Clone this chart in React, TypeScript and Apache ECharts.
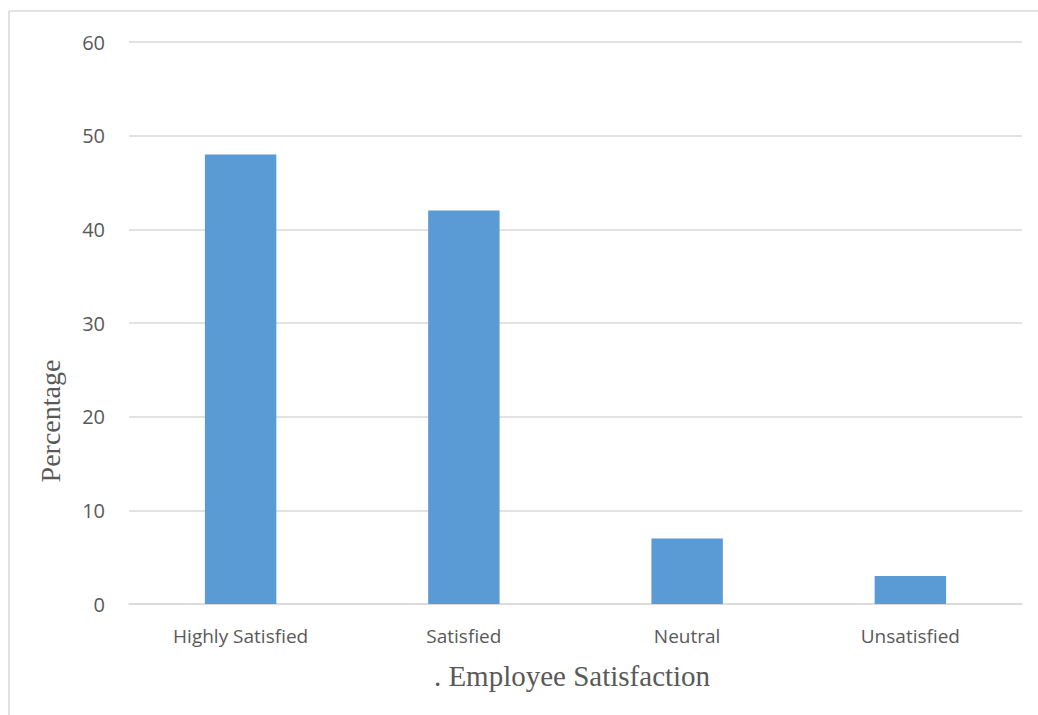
import React, { useEffect, useRef } from "react";
import * as echarts from "echarts";

const categories = ["Highly Satisfied", "Satisfied", "Neutral", "Unsatisfied"];
const values = [48, 42, 7, 3];
const xTitle = ". Employee Satisfaction";
const yTitle = "Percentage";

export default function App() {
  const ref = useRef<HTMLDivElement>(null);
  useEffect(() => {
    const chart = echarts.init(ref.current!, null, { renderer: "svg" });
    chart.setOption({
      animation: false,
      backgroundColor: "#ffffff",
      grid: { left: 129, right: 16, top: 42, bottom: 111 },
      xAxis: {
        type: "category",
        data: categories,
        axisLine: { lineStyle: { color: "#d9d9d9", width: 1.5 } },
        axisTick: { show: false },
        axisLabel: { color: "#595959", fontSize: 19, fontFamily: "Open Sans", margin: 22 },
      },
      yAxis: {
        type: "value",
        min: 0,
        max: 60,
        interval: 10,
        axisLine: { show: false },
        axisTick: { show: false },
        splitLine: { lineStyle: { color: "#d9d9d9", width: 1.5 } },
        axisLabel: { color: "#595959", fontSize: 20, fontFamily: "Open Sans", margin: 24 },
      },
      series: [
        {
          type: "bar",
          data: values,
          barWidth: "32%",
          itemStyle: { color: "#5b9bd5" },
        },
      ],
      graphic: [
        { type: "line", shape: { x1: 9, y1: 11, x2: 1038, y2: 11 }, style: { stroke: "#d9d9d9", lineWidth: 1.5 } },
        { type: "line", shape: { x1: 9, y1: 11, x2: 9, y2: 715 }, style: { stroke: "#d9d9d9", lineWidth: 1.5 } },
        {
          type: "text",
          x: 572,
          y: 676,
          style: {
            text: xTitle,
            fontFamily: "Liberation Serif",
            fontSize: 29,
            fill: "#595959",
            align: "center",
            verticalAlign: "middle",
          },
        },
        {
          type: "text",
          x: 50,
          y: 421,
          rotation: Math.PI / 2,
          style: {
            text: yTitle,
            fontFamily: "Liberation Serif",
            fontSize: 28,
            fill: "#595959",
            align: "center",
            verticalAlign: "middle",
          },
        },
      ],
    });
    return () => chart.dispose();
  }, []);
  return <div ref={ref} style={{ position: "fixed", left: 0, top: 0, width: 1038, height: 715 }} />;
}
